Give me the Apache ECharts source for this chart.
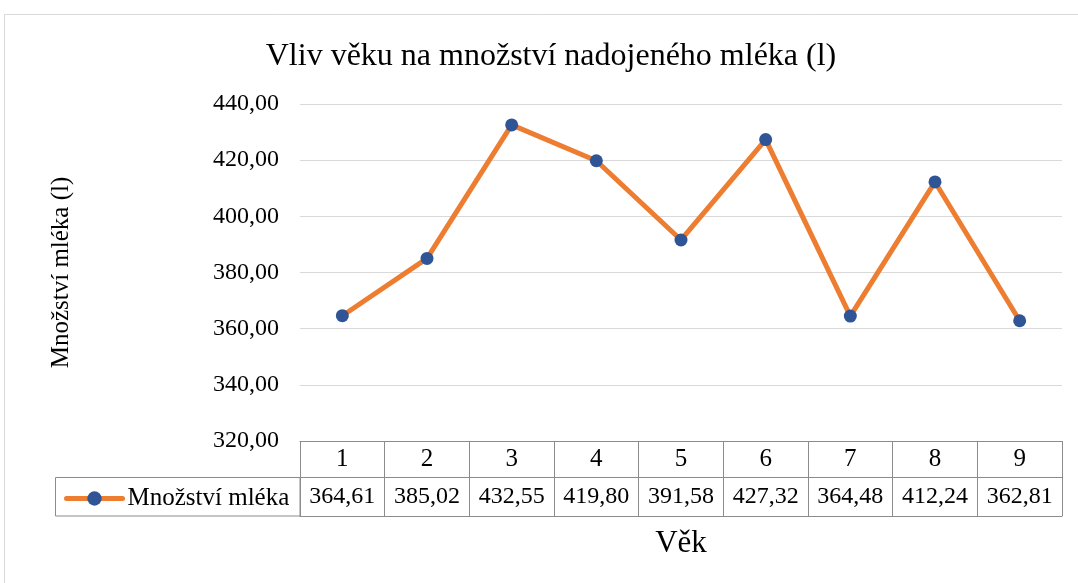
<!DOCTYPE html>
<html>
<head>
<meta charset="utf-8">
<script src="https://cdn.jsdelivr.net/npm/echarts@6/dist/echarts.min.js"></script>
<style>
  html, body { margin: 0; padding: 0; background: #fff; }
  #main { width: 1078px; height: 583px; }
</style>
</head>
<body>
<div id="main"></div>
<script>
// data
const ages = ['1', '2', '3', '4', '5', '6', '7', '8', '9'];
const milk = [364.61, 385.02, 432.55, 419.80, 391.58, 427.32, 364.48, 412.24, 362.81];
const seriesName = 'Množství mléka';
const yMin = 320, yMax = 440, yStep = 20;

const fmt = v => v.toFixed(2).replace('.', ',');
const milkLabels = milk.map(fmt);

const font = "'Liberation Serif', 'Times New Roman', serif";
const tableLine = '#8c8c8c';

const chartDom = document.getElementById('main');
const myChart = echarts.init(chartDom);
const option = {
  animation: false,
  title: {
    text: 'Vliv věku na množství nadojeného mléka (l)',
    left: 546,
    textAlign: 'center',
    top: 36,
    textStyle: { fontFamily: font, fontSize: 32, fontWeight: 'normal', color: '#000' }
  },
  legend: {
    left: 59,
    top: 481,
    itemWidth: 56,
    itemHeight: 18,
    lineStyle: { width: 5 },
    textStyle: { fontFamily: font, fontSize: 25, color: '#000' },
    data: [seriesName]
  },
  grid: { left: 300, right: 16, top: 104, bottom: 142 },
  xAxis: [
    {
      type: 'category',
      data: ages,
      position: 'bottom',
      name: 'Věk',
      nameLocation: 'middle',
      nameGap: 87,
      nameTextStyle: { fontFamily: font, fontSize: 31, color: '#000' },
      axisLine: { show: true, lineStyle: { color: tableLine, width: 1 } },
      axisTick: { show: true, length: 75, lineStyle: { color: tableLine, width: 1 } },
      axisLabel: { interval: 0, margin: 6, fontFamily: font, fontSize: 25, color: '#000' }
    },
    {
      type: 'category',
      data: milkLabels,
      position: 'bottom',
      offset: 36,
      axisLine: { show: true, lineStyle: { color: tableLine, width: 1 } },
      axisTick: { show: false },
      axisLabel: { interval: 0, margin: 8, fontFamily: font, fontSize: 24, color: '#000' }
    },
    {
      type: 'category',
      data: ages,
      position: 'bottom',
      offset: 75,
      axisLine: { show: true, lineStyle: { color: tableLine, width: 1 } },
      axisTick: { show: false },
      axisLabel: { show: false }
    }
  ],
  yAxis: {
    type: 'value',
    min: yMin,
    max: yMax,
    interval: yStep,
    name: 'Množství mléka (l)',
    nameLocation: 'middle',
    nameGap: 226,
    nameTextStyle: { fontFamily: font, fontSize: 25, color: '#000' },
    axisLine: { show: false },
    axisTick: { show: false },
    splitLine: { lineStyle: { color: '#d9d9d9', width: 1 } },
    axisLabel: {
      margin: 21,
      fontFamily: font,
      fontSize: 24,
      color: '#000',
      formatter: v => fmt(v)
    }
  },
  graphic: [
    {
      type: 'rect',
      shape: { x: 4.5, y: 14.5, width: 1090, height: 600 },
      style: { fill: 'none', stroke: '#d9d9d9', lineWidth: 1 },
      silent: true,
      z: -10
    },
    {
      type: 'rect',
      shape: { x: 55.5, y: 477.5, width: 244.5, height: 38.5 },
      style: { fill: 'none', stroke: tableLine, lineWidth: 1 },
      silent: true
    }
  ],
  series: [
    {
      name: seriesName,
      type: 'line',
      data: milk,
      symbol: 'circle',
      symbolSize: 13,
      lineStyle: { color: '#ED7D31', width: 5, cap: 'round', join: 'round' },
      itemStyle: { color: '#2F5597' },
      z: 5
    }
  ]
};
option && myChart.setOption(option);
</script>
</body>
</html>
